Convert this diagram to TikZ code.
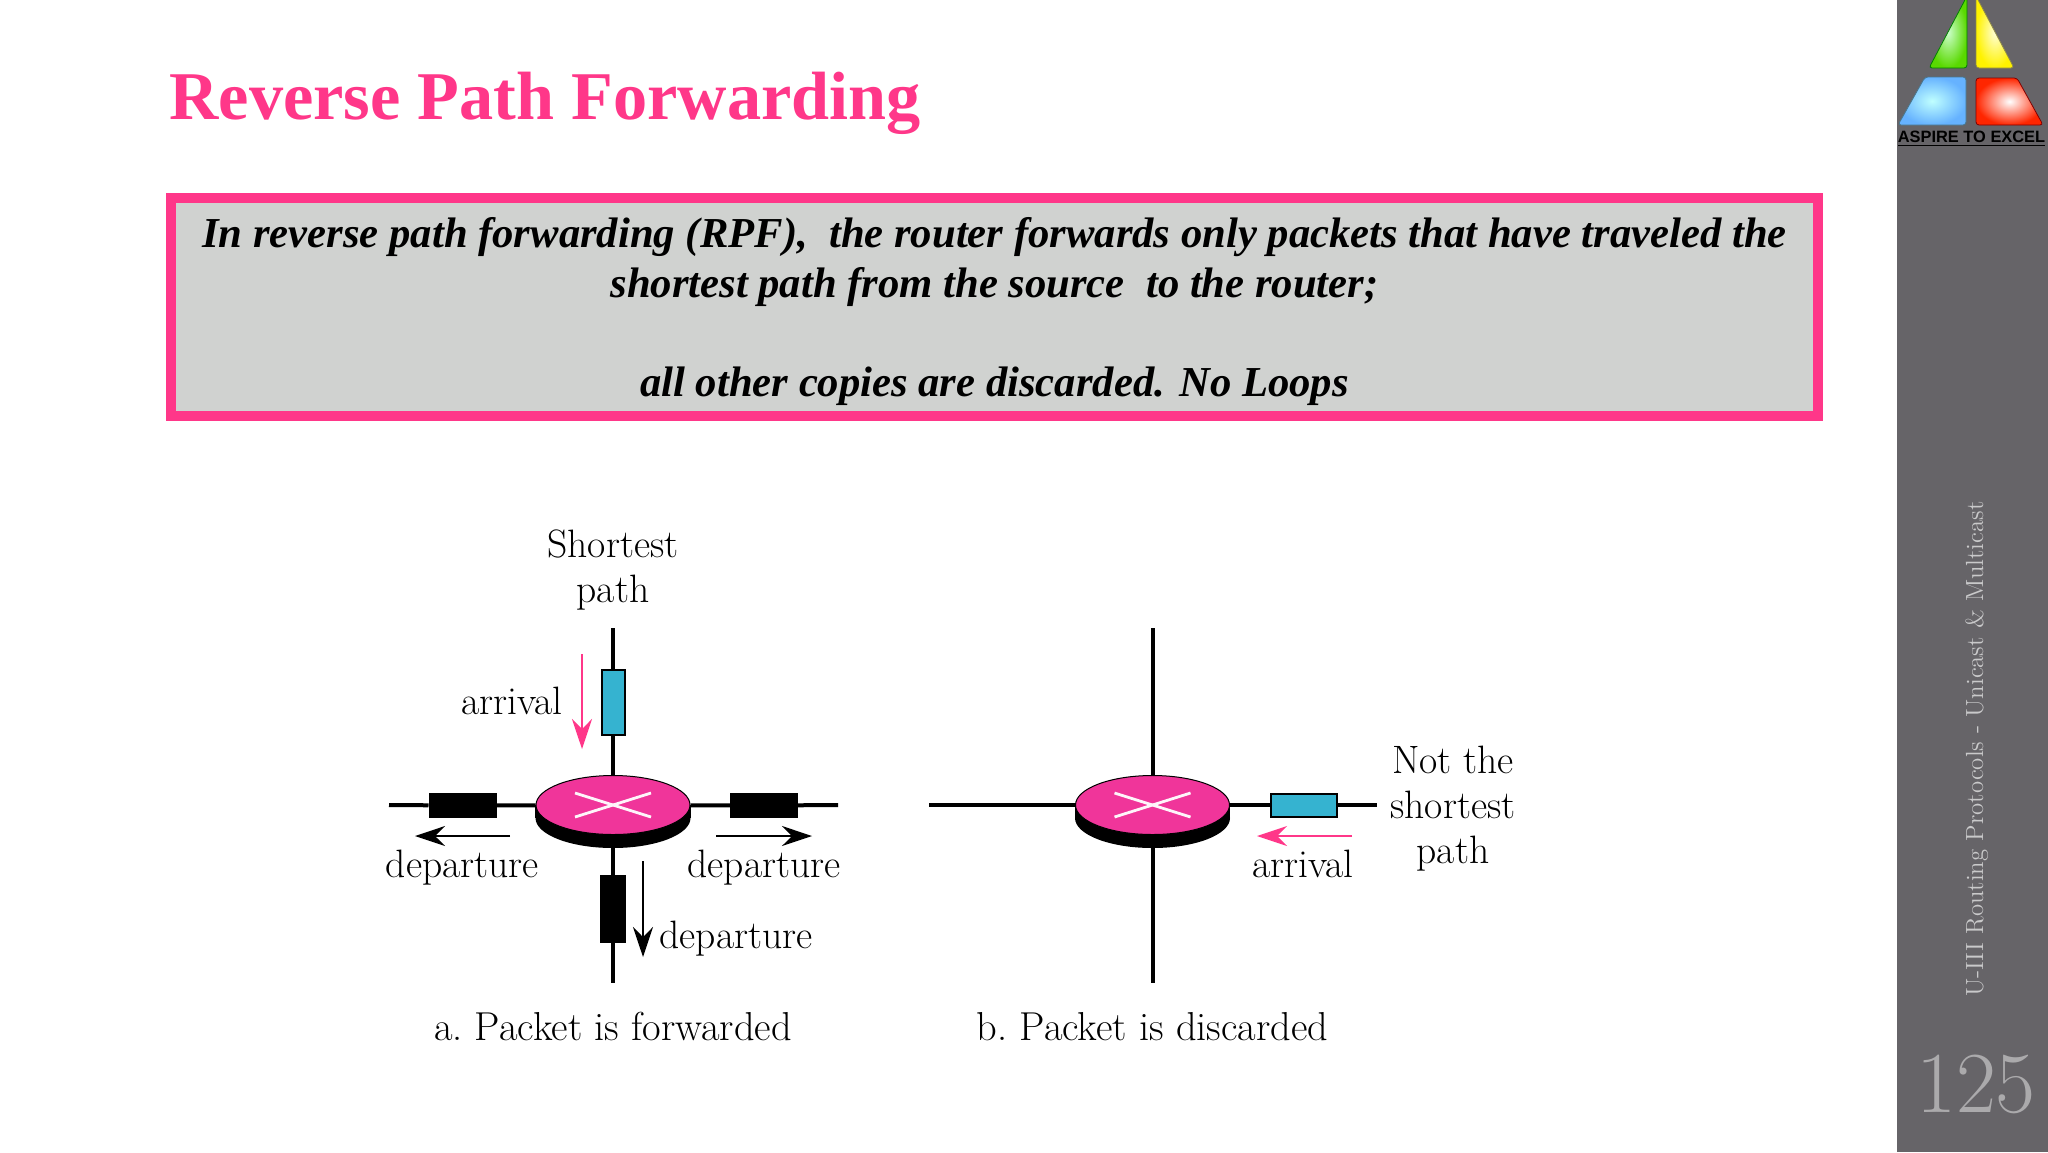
\documentclass[tikz,border=0pt]{standalone}
\usepackage{fontspec}
\usepackage{tikz}
\usepackage{xcolor}
\usetikzlibrary{arrows.meta,shapes.geometric,positioning}
\newfontfamily\timesfont{Liberation Serif}
\newfontfamily\logofont{Liberation Sans}
\definecolor{rose}{HTML}{FF3789}
\definecolor{routerpink}{HTML}{F0359A}
\definecolor{packetblue}{HTML}{35B3D0}
\definecolor{boxgrey}{HTML}{D0D2D0}
\definecolor{sidegrey}{HTML}{666468}

\begin{document}
\begin{tikzpicture}[x=0.5pt,y=-0.5pt,every node/.style={inner sep=0pt},
wire/.style={line width=2pt,black},
routertop/.style={ellipse,draw=black,line width=0.5pt,fill=routerpink,minimum width=77pt,minimum height=29.5pt},
routerbase/.style={ellipse,fill=black,minimum width=77.5pt,minimum height=30pt},
xmark/.style={line width=1.4pt,white!95!routerpink},
packetv/.style={rectangle,draw=black,line width=1pt,minimum width=11.5pt,minimum height=32.5pt},
packeth/.style={rectangle,draw=black,line width=1pt,minimum width=33pt,minimum height=11.5pt},
flow/.style={line width=0.8pt,-{Stealth[length=15pt,width=10pt,inset=5pt]}},
lbl/.style={font=\fontsize{19.8}{22.5}\selectfont,align=center,text=black},
caption/.style={font=\fontsize{20.2}{22.5}\selectfont,text=black},
logotext/.style={font=\logofont\bfseries\fontsize{8.2}{9}\selectfont}]
\useasboundingbox (0,0) rectangle (2048,1152);
\fill[white] (0,0) rectangle (2048,1152);
\fill[sidegrey] (1897,0) rectangle (2048,1152);
\shadedraw[rounded corners=1.5pt,draw=black!50!green,line width=0.4pt,inner color=white!80!green,outer color=green!45!lime!85!black] (1967,-4) -- (1967,68) -- (1929,68) -- cycle;
\shadedraw[rounded corners=1.5pt,draw=black!50!yellow,line width=0.4pt,inner color=white!85!yellow,outer color=yellow!90!orange] (1976,-4) -- (2014,68) -- (1976,68) -- cycle;
\shadedraw[rounded corners=1.5pt,draw=black!50!cyan,line width=0.4pt,inner color=white!75!cyan,outer color=cyan!50!blue!60!white] (1925,77) -- (1966,77) -- (1966,125) -- (1898,125) -- cycle;
\shadedraw[rounded corners=1.5pt,draw=black!50!red,line width=0.4pt,inner color=white,outer color=red!70!orange] (1976,78) -- (2017,78) -- (2043,125) -- (1976,125) -- cycle;
\node (logo) at (1971.5,142) [logotext,anchor=base]{ASPIRE TO EXCEL};
\draw[line width=0.6pt,black] (1898,145.5) -- (2045,145.5);
\node (title) at (169,119) [anchor=base west,text=rose,font=\timesfont\bfseries\fontsize{34.15}{40}\selectfont]{Reverse Path Forwarding};
\node (defbox) at (994.5,307) [rectangle,draw=rose,line width=5pt,fill=boxgrey,minimum width=823.5pt,minimum height=109pt]{};
\node (deftext) at (994.5,396) [anchor=base,align=center,font=\timesfont\bfseries\itshape\fontsize{21.33}{24.75}\selectfont]{In reverse path forwarding (RPF),\ \ the router forwards only packets that have traveled the\\shortest path from the source\ \ to the router;\\ \\all other copies are discarded. No Loops};
\node (sidetext) at (1983,749) [anchor=base,rotate=90,text=white!65!sidegrey,font=\fontsize{12.4}{14}\selectfont]{U-III Routing Protocols - Unicast \& Multicast};
\node (pageno) at (1976,1112) [anchor=base,text=white!45!sidegrey,font=\fontsize{43.5}{48}\selectfont]{125};
\coordinate (ta) at (613,628);
\coordinate (ba) at (613,983);
\coordinate (la) at (389,805);
\coordinate (ea) at (838,805);
\node (basea) at (613,818) [routerbase]{};
\fill[black] (basea.west) rectangle (basea.east |- 613,805);
\node (ra) at (613,805) [routertop]{};
\node (pt) at (613,702.5) [packetv,fill=packetblue]{};
\node (pb) at (613,909) [packetv,fill=black,minimum width=12pt,minimum height=33pt]{};
\node (pl) at (462.5,805.5) [packeth,fill=black]{};
\node (pr) at (764,805.5) [packeth,fill=black]{};
\draw[wire] (ta) -- (pt);
\draw[wire] (pt) -- (ra);
\draw[wire] (basea) -- (pb);
\draw[wire] (pb) -- (ba);
\draw[wire] (la) -- (pl);
\draw[wire] (pl) -- (ra);
\draw[wire] (ra) -- (pr);
\draw[wire] (pr) -- (ea);
\draw[xmark] ([xshift=-19pt,yshift=-6pt]ra.center) -- ([xshift=19pt,yshift=6pt]ra.center);
\draw[xmark] ([xshift=-19pt,yshift=6pt]ra.center) -- ([xshift=19pt,yshift=-6pt]ra.center);
\coordinate (arra1) at (582,654);
\coordinate (arra2) at (582,749);
\coordinate (depl1) at (510,836);
\coordinate (depl2) at (415,836);
\coordinate (depr1) at (716,836);
\coordinate (depr2) at (812,836);
\coordinate (depb1) at (643,861);
\coordinate (depb2) at (643,957);
\draw[flow,rose] (arra1) -- (arra2);
\draw[flow] (depl1) -- (depl2);
\draw[flow] (depr1) -- (depr2);
\draw[flow] (depb1) -- (depb2);
\node (short) at (613,602) [lbl,anchor=base]{Shortest\\path};
\node (arrlbl) at (512,714) [lbl,anchor=base]{arrival};
\node (depllbl) at (462.5,877) [lbl,anchor=base]{departure};
\node (deprlbl) at (764,877) [lbl,anchor=base]{departure};
\node (depblbl) at (736,948) [lbl,anchor=base]{departure};
\node (capa) at (613,1040) [caption,anchor=base]{a.\ Packet is forwarded};
\coordinate (tb) at (1152.5,628);
\coordinate (bb) at (1152.5,983);
\coordinate (lb) at (929,805);
\coordinate (eb) at (1377,805);
\node (baseb) at (1152.5,818) [routerbase]{};
\fill[black] (baseb.west) rectangle (baseb.east |- 1152.5,805);
\node (rb) at (1152.5,805) [routertop]{};
\node (pe) at (1304,805) [packeth,fill=packetblue]{};
\draw[wire] (tb) -- (rb);
\draw[wire] (baseb) -- (bb);
\draw[wire] (lb) -- (rb);
\draw[wire] (rb) -- (pe);
\draw[wire] (pe) -- (eb);
\draw[xmark] ([xshift=-19pt,yshift=-6pt]rb.center) -- ([xshift=19pt,yshift=6pt]rb.center);
\draw[xmark] ([xshift=-19pt,yshift=6pt]rb.center) -- ([xshift=19pt,yshift=-6pt]rb.center);
\coordinate (arrb1) at (1352,836);
\coordinate (arrb2) at (1257,836);
\draw[flow,rose] (arrb1) -- (arrb2);
\node (arrblbl) at (1303,877) [lbl,anchor=base]{arrival};
\node (notlbl) at (1453,863) [lbl,anchor=base]{Not the\\shortest\\path};
\node (capb) at (1152.5,1040) [caption,anchor=base]{b.\ Packet is discarded};
\end{tikzpicture}
\end{document}
